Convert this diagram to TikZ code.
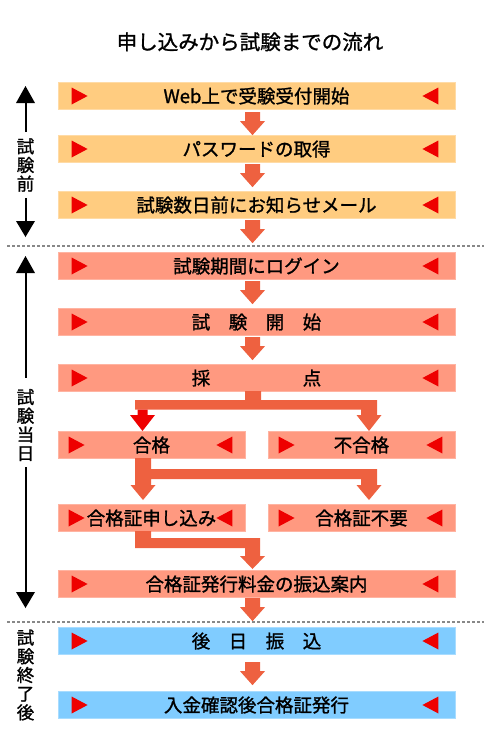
\documentclass[tikz,border=0pt]{standalone}
\usepackage{fontspec}
\setmainfont{Noto Sans CJK JP}[RawFeature={embolden=1.2}]
\usetikzlibrary{calc}
\definecolor{orfill}{HTML}{FFCC80}
\definecolor{orline}{HTML}{FFDBA6}
\definecolor{safill}{HTML}{FF9980}
\definecolor{saline}{HTML}{FFB4A2}
\definecolor{blfill}{HTML}{80CCFF}
\definecolor{blline}{HTML}{A8DCFF}
\definecolor{mkred}{HTML}{EE0000}
\definecolor{arrc}{HTML}{EE6140}
\definecolor{sepgray}{HTML}{888888}
\newcommand\mymarks[3]{%
  \fill[mk] ($(#1.west)+(#2,-8.5)$) -- ++(16,8.5) -- ++(-16,8.5) -- cycle;
  \fill[mk] ($(#1.east)+(-#3,-8.5)$) -- ++(-16,8.5) -- ++(16,8.5) -- cycle;}
\begin{document}
\begin{tikzpicture}[x=1pt,y=-1pt,
  box/.style={rectangle, inner sep=0pt, minimum height=27.5pt, line width=0.8pt,
    font={\fontsize{18.5pt}{20pt}\selectfont}, text height=16.3pt, text depth=2.2pt},
  obox/.style={box, fill=orfill, draw=orline},
  sbox/.style={box, fill=safill, draw=saline},
  bbox/.style={box, fill=blfill, draw=blline},
  wide/.style={minimum width=397pt},
  half/.style={minimum width=187pt},
  mk/.style={fill=mkred},
  arr/.style={fill=arrc},
  sepline/.style={draw=sepgray, line width=1.6pt, dash pattern=on 3pt off 2pt},
  sideline/.style={draw=black, line width=2pt},
  lab/.style={align=center, font={\fontsize{17.5pt}{18.7pt}\selectfont}, inner xsep=0pt, inner ysep=6pt},
  dn/.pic={\fill[arr] (-7.5,0) -- (7.5,0) -- (7.5,9) -- (12.5,9) -- (0,23) -- (-12.5,9) -- (-7.5,9) -- cycle;}
]
\useasboundingbox (0,0) rectangle (484,750);

% title
\node[font={\fontsize{20.5pt}{22pt}\selectfont}, text height=17.8pt, text depth=2.6pt, inner sep=0pt] (title) at (250,42) {申し込みから試験までの流れ};

% boxes
\node[obox, wide] (r1) at (256.5,96) {Web上で受験受付開始};
\node[obox, wide] (r2) at (256.5,149) {パスワードの取得};
\node[obox, wide] (r3) at (256.5,205) {試験数日前にお知らせメール};
\node[sbox, wide] (r4) at (256.5,266) {試験期間にログイン};
\node[sbox, wide] (r5) at (256.5,322) {試　験　開　始};
\node[sbox, wide] (r6) at (256.5,378) {採　　　　　点};
\node[sbox, half] (r7l) at (151.5,445) {合格};
\node[sbox, half] (r7r) at (361.5,445) {不合格};
\node[sbox, half] (r8l) at (151.5,518) {合格証申し込み};
\node[sbox, half] (r8r) at (361.5,518) {合格証不要};
\node[sbox, wide] (r9) at (256.5,584) {合格証発行料金の振込案内};
\node[bbox, wide] (r10) at (256.5,641) {後　日　振　込};
\node[bbox, wide] (r11) at (256.5,705) {入金確認後合格証発行};

% markers
\mymarks{r1}{14}{17}
\mymarks{r2}{14}{17}
\mymarks{r3}{14}{17}
\mymarks{r4}{14}{17}
\mymarks{r5}{14}{17}
\mymarks{r6}{14}{17}
\mymarks{r7l}{11}{13}
\mymarks{r7r}{11}{13}
\mymarks{r8l}{11}{13}
\mymarks{r8r}{11}{13}
\mymarks{r9}{14}{17}
\mymarks{r10}{14}{17}
\mymarks{r11}{14}{17}

% simple down arrows
\pic (a1) at ($(r1.south)+(-4,2)$) {dn};
\pic (a2) at ($(r2.south)+(-4,1)$) {dn};
\pic (a3) at ($(r3.south)+(-4,1)$) {dn};
\pic (a4) at ($(r4.south)+(-4,1)$) {dn};
\pic (a5) at ($(r5.south)+(-4,1)$) {dn};
\pic (a9) at ($(r9.south)+(-4,0)$) {dn};
\pic (a10) at ($(r10.south)+(-4,7)$) {dn};

% branch from 採点
\fill[arr] (245,391) -- (261,391) -- (261,400) -- (377,400) -- (377,415) -- (381.5,415) -- (369,431)
  -- (356.5,415) -- (361,415) -- (361,409.5) -- (135,409.5) -- (135,400) -- (245,400) -- cycle;
\fill[mkred] (137.5,409.5) -- (147.5,409.5) -- (147.5,415) -- (155,415) -- (142.5,431) -- (130,415) -- (137.5,415) -- cycle;

% branch from 合格
\fill[arr] (135,458) -- (151,458) -- (151,469) -- (377,469) -- (377,485) -- (381.5,485) -- (369,500)
  -- (356.5,485) -- (361,485) -- (361,479) -- (151,479) -- (151,485) -- (155.5,485) -- (143,500)
  -- (130.5,485) -- (135,485) -- cycle;

% from 合格証申し込み
\fill[arr] (135,531) -- (151,531) -- (151,538) -- (260,538) -- (260,556) -- (265,556) -- (252.5,569)
  -- (240,556) -- (245,556) -- (245,548) -- (135,548) -- cycle;

% separators
\draw[sepline] (7,246) -- (484,246);
\draw[sepline] (7,622) -- (484,622);

% side labels
\node[lab] (s1) at (25.5,165) {試\\験\\前};
\node[lab] (s2) at (25.5,425) {試\\験\\当\\日};
\node[lab] (s3) at (25.5,675) {試\\験\\終\\了\\後};

\coordinate (t1) at (25.5,86);
\coordinate (b1) at (25.5,237);
\coordinate (t2) at (25.5,256);
\coordinate (b2) at (25.5,608);
\draw[sideline] (s1.north) -- ($(t1)+(0,16)$);
\draw[sideline] (s1.south) -- ($(b1)+(0,-16)$);
\fill (t1) -- ++(9.5,17) -- ++(-19,0) -- cycle;
\fill (b1) -- ++(9.5,-16) -- ++(-19,0) -- cycle;
\draw[sideline] ($(s2.north)+(0,-5)$) -- ($(t2)+(0,16)$);
\draw[sideline] (s2.south) -- ($(b2)+(0,-16)$);
\fill (t2) -- ++(9.5,17) -- ++(-19,0) -- cycle;
\fill (b2) -- ++(9.5,-16) -- ++(-19,0) -- cycle;
\end{tikzpicture}
\end{document}
